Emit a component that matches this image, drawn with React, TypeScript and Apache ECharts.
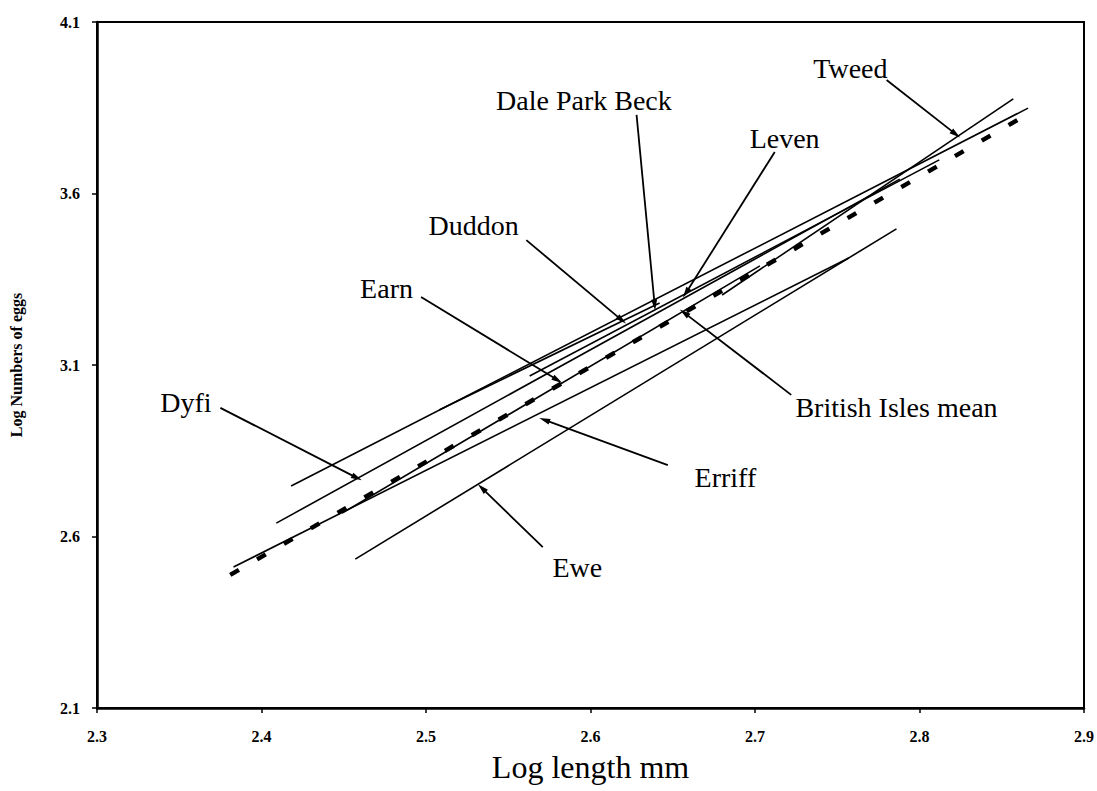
import { useEffect, useRef } from "react";
import * as echarts from "echarts";

// Axis ranges (log length mm, log numbers of eggs)
const xRange = [2.3, 2.9];
const yRange = [2.1, 4.1];
const xStep = 0.1;
const yStep = 0.5;

// Fecundity regression lines: [log length, log eggs] at each end
const dyfiLine = [[2.409, 2.639], [2.788, 3.642]];
const duddonLine = [[2.418, 2.747], [2.866, 3.849]];
const daleParkBeckLine = [[2.508, 2.969], [2.642, 3.281]];
const levenLine = [[2.563, 3.068], [2.812, 3.698]];
const tweedLine = [[2.68, 3.304], [2.857, 3.876]];
const earnLine = [[2.449, 2.668], [2.703, 3.389]];
const erriffLine = [[2.383, 2.511], [2.757, 3.412]];
const eweLine = [[2.457, 2.534], [2.786, 3.497]];
const britishIslesMeanLine = [[2.381, 2.488], [2.867, 3.835]];

const riverNames = ["Dyfi", "Duddon", "Dale Park Beck", "Leven", "Tweed", "Earn", "Erriff", "Ewe"];
const riverLines = [dyfiLine, duddonLine, daleParkBeckLine, levenLine, tweedLine, earnLine, erriffLine, eweLine];

// Callout labels: text, label centre, arrow tail, arrow tip (data units)
const calloutNames = ["Tweed", "Leven", "Dale Park Beck", "Duddon", "Earn", "Dyfi", "British Isles mean", "Erriff", "Ewe"];
const calloutText = [
  [2.758, 3.963],
  [2.718, 3.759],
  [2.596, 3.87],
  [2.529, 3.508],
  [2.476, 3.324],
  [2.354, 2.992],
  [2.786, 2.975],
  [2.682, 2.771],
  [2.592, 2.511],
];
const calloutTail = [
  [2.78, 3.931],
  [2.712, 3.721],
  [2.628, 3.829],
  [2.561, 3.464],
  [2.497, 3.298],
  [2.375, 2.975],
  [2.722, 3.013],
  [2.647, 2.808],
  [2.571, 2.569],
];
const calloutTip = [
  [2.822, 3.773],
  [2.658, 3.31],
  [2.639, 3.275],
  [2.619, 3.231],
  [2.58, 3.056],
  [2.458, 2.771],
  [2.657, 3.252],
  [2.572, 2.94],
  [2.534, 2.741],
];

const serif = '"Liberation Serif", "Times New Roman", serif';

export default function App() {
  const ref = useRef<HTMLDivElement>(null);

  useEffect(() => {
    const el = ref.current;
    if (!el) return;
    const chart = echarts.init(el, null, { renderer: "svg" });

    const riverSeries = riverLines.map((line, i) => ({
      name: riverNames[i],
      type: "line",
      data: line,
      symbol: "none",
      silent: true,
      lineStyle: { color: "#000", width: 1.6 },
      z: 3,
    }));

    const option = {
      animation: false,
      backgroundColor: "#fff",
      grid: {
        left: 97,
        right: 13,
        top: 22,
        bottom: 83,
        show: true,
        borderColor: "#000",
        borderWidth: 2,
      },
      xAxis: {
        type: "value",
        min: xRange[0],
        max: xRange[1],
        interval: xStep,
        name: "Log length mm",
        nameLocation: "middle",
        nameGap: 43,
        nameTextStyle: { fontFamily: serif, fontSize: 32, color: "#000" },
        axisLine: { show: true, lineStyle: { color: "#000", width: 2.5 } },
        axisTick: { show: true, length: 5, lineStyle: { color: "#000", width: 1.5 } },
        axisLabel: {
          margin: 20,
          fontFamily: serif,
          fontWeight: "bold",
          fontSize: 16,
          color: "#000",
          formatter: (v: number) => v.toFixed(1),
        },
        splitLine: { show: false },
      },
      yAxis: {
        type: "value",
        min: yRange[0],
        max: yRange[1],
        interval: yStep,
        name: "Log Numbers of eggs",
        nameLocation: "middle",
        nameGap: 73,
        nameTextStyle: { fontFamily: serif, fontSize: 16, fontWeight: "bold", color: "#000" },
        axisLine: { show: true, lineStyle: { color: "#000", width: 2.5 } },
        axisTick: { show: true, length: 5, lineStyle: { color: "#000", width: 1.5 } },
        axisLabel: {
          margin: 17,
          fontFamily: serif,
          fontWeight: "bold",
          fontSize: 16,
          color: "#000",
          formatter: (v: number) => v.toFixed(1),
        },
        splitLine: { show: false },
      },
      series: [
        ...riverSeries,
        {
          name: "British Isles mean",
          type: "line",
          data: britishIslesMeanLine,
          symbol: "none",
          silent: true,
          lineStyle: { color: "#000", width: 4.5, type: [10, 21] },
          z: 4,
        },
        {
          name: "callouts",
          type: "line",
          data: [],
          symbol: "none",
          silent: true,
          markLine: {
            silent: true,
            animation: false,
            symbol: ["none", "triangle"],
            symbolSize: [6, 11],
            label: { show: false },
            lineStyle: { color: "#000", width: 1.8, type: "solid" },
            data: calloutTail.map((tail, i) => [{ coord: tail }, { coord: calloutTip[i] }]),
          },
          z: 5,
        },
      ],
    };

    chart.setOption(option);

    const texts = calloutNames.map((name, i) => {
      const p = chart.convertToPixel({ gridIndex: 0 }, calloutText[i]) as number[];
      return {
        type: "text",
        x: p[0],
        y: p[1],
        silent: true,
        style: {
          text: name,
          fill: "#000",
          font: `28px ${serif}`,
          align: "center",
          verticalAlign: "middle",
          textAlign: "center",
          textVerticalAlign: "middle",
        },
        z: 10,
      };
    });
    chart.setOption({ graphic: texts });

    return () => chart.dispose();
  }, []);

  return (
    <div
      ref={ref}
      style={{ position: "fixed", left: 0, top: 0, width: 1097, height: 791, background: "#fff" }}
    />
  );
}
